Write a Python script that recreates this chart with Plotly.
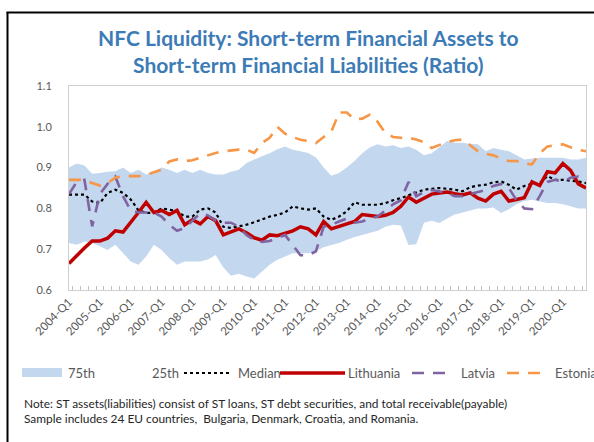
import plotly.graph_objects as go

# Quarterly categories 2004-Q1 .. 2020-Q4
quarters = [f"{y}-Q{q}" for y in range(2004, 2021) for q in range(1, 5)]
tick_labels = [f"{y}-Q1" for y in range(2004, 2021)]

p75 = [0.900, 0.910, 0.905, 0.885, 0.887, 0.890, 0.891, 0.900, 0.887, 0.895,
       0.883, 0.891, 0.900, 0.895, 0.887, 0.895, 0.887, 0.895, 0.887, 0.883,
       0.883, 0.890, 0.895, 0.911, 0.920, 0.928, 0.935, 0.945, 0.952, 0.944,
       0.940, 0.936, 0.925, 0.900, 0.880, 0.887, 0.900, 0.916, 0.935, 0.950,
       0.957, 0.952, 0.955, 0.948, 0.952, 0.944, 0.930, 0.935, 0.950, 0.965,
       0.961, 0.961, 0.958, 0.957, 0.940, 0.948, 0.944, 0.940, 0.930, 0.920,
       0.922, 0.924, 0.924, 0.924, 0.924, 0.920, 0.920, 0.924]
p25 = [0.715, 0.711, 0.719, 0.715, 0.707, 0.698, 0.711, 0.690, 0.670, 0.662,
       0.682, 0.711, 0.698, 0.678, 0.662, 0.670, 0.670, 0.670, 0.675, 0.686,
       0.655, 0.635, 0.640, 0.633, 0.628, 0.645, 0.662, 0.674, 0.682, 0.690,
       0.690, 0.690, 0.695, 0.705, 0.710, 0.715, 0.723, 0.730, 0.735, 0.740,
       0.745, 0.755, 0.760, 0.758, 0.710, 0.712, 0.765, 0.770, 0.764, 0.775,
       0.785, 0.790, 0.795, 0.800, 0.800, 0.802, 0.789, 0.798, 0.810, 0.818,
       0.821, 0.817, 0.813, 0.813, 0.810, 0.805, 0.800, 0.800]
median = [0.834, 0.834, 0.834, 0.817, 0.813, 0.838, 0.846, 0.838, 0.822, 0.795,
          0.789, 0.789, 0.800, 0.797, 0.793, 0.780, 0.780, 0.797, 0.800, 0.790,
          0.755, 0.752, 0.756, 0.760, 0.766, 0.774, 0.780, 0.784, 0.790, 0.805,
          0.800, 0.797, 0.800, 0.780, 0.772, 0.780, 0.793, 0.815, 0.809, 0.809,
          0.809, 0.813, 0.820, 0.825, 0.832, 0.838, 0.846, 0.848, 0.850, 0.848,
          0.846, 0.842, 0.852, 0.856, 0.858, 0.864, 0.866, 0.858, 0.846, 0.855,
          0.860, 0.862, 0.879, 0.870, 0.870, 0.868, 0.866, 0.862]
lithuania = [0.665, 0.685, 0.703, 0.720, 0.720, 0.727, 0.745, 0.742, 0.765, 0.790,
             0.815, 0.790, 0.795, 0.785, 0.795, 0.760, 0.772, 0.762, 0.780, 0.770,
             0.735, 0.742, 0.750, 0.740, 0.728, 0.722, 0.735, 0.733, 0.738, 0.745,
             0.755, 0.750, 0.735, 0.768, 0.750, 0.756, 0.762, 0.768, 0.785, 0.782,
             0.780, 0.783, 0.790, 0.805, 0.828, 0.815, 0.825, 0.835, 0.838, 0.840,
             0.836, 0.833, 0.838, 0.825, 0.818, 0.835, 0.842, 0.818, 0.822, 0.826,
             0.865, 0.856, 0.890, 0.887, 0.910, 0.893, 0.860, 0.850]
latvia = [0.835, 0.865, 0.870, 0.756, 0.835, 0.860, 0.878, 0.830, 0.795, 0.790,
          0.790, 0.790, 0.780, 0.760, 0.745, 0.752, 0.770, 0.788, 0.783, 0.770,
          0.765, 0.765, 0.755, 0.735, 0.722, 0.718, 0.720, 0.728, 0.735, 0.710,
          0.685, 0.685, 0.695, 0.755, 0.760, 0.768, 0.775, 0.765, 0.768, 0.775,
          0.780, 0.795, 0.810, 0.820, 0.865, 0.830, 0.840, 0.845, 0.842, 0.838,
          0.830, 0.830, 0.835, 0.840, 0.845, 0.855, 0.860, 0.850, 0.820, 0.800,
          0.798, 0.830, 0.865, 0.870, 0.865, 0.875, 0.878, 0.870]
estonia = [0.870, 0.870, 0.870, 0.862, 0.856, 0.862, 0.875, 0.879, 0.879, 0.879,
           0.882, 0.889, 0.895, 0.915, 0.920, 0.916, 0.918, 0.924, 0.930, 0.936,
           0.940, 0.942, 0.944, 0.944, 0.936, 0.960, 0.973, 1.000, 0.983, 0.975,
           0.968, 0.965, 0.960, 0.975, 0.988, 1.035, 1.035, 1.018, 1.020, 1.030,
           1.012, 0.985, 0.975, 0.973, 0.973, 0.969, 0.962, 0.948, 0.955, 0.963,
           0.967, 0.969, 0.955, 0.940, 0.934, 0.930, 0.922, 0.916, 0.916, 0.910,
           0.908, 0.935, 0.952, 0.955, 0.957, 0.950, 0.944, 0.940]

BAND = "#C3D7EF"
RED = "#C00000"
PURPLE = "#8064A2"
ORANGE = "#F79646"
FONT = "Lato"

W, H = 594, 442
L, R, T, B = 69, 8, 86, 152
PW, PH = W - L - R, H - T - B


def px(x):
    return (x - L) / PW


def py(y):
    return (H - B - y) / PH


fig = go.Figure()
fig.add_trace(go.Scatter(x=quarters, y=p25, mode="lines", line=dict(width=0),
                         hoverinfo="skip", showlegend=False))
fig.add_trace(go.Scatter(x=quarters, y=p75, mode="lines", line=dict(width=0),
                         fill="tonexty", fillcolor=BAND, showlegend=False))
fig.add_trace(go.Scatter(x=quarters, y=median, mode="lines",
                         line=dict(color="black", width=2.2, dash="dot"), showlegend=False))
fig.add_trace(go.Scatter(x=quarters, y=lithuania, mode="lines",
                         line=dict(color=RED, width=3.5), showlegend=False))
fig.add_trace(go.Scatter(x=quarters, y=latvia, mode="lines",
                         line=dict(color=PURPLE, width=2.6, dash="12px,9px"), showlegend=False))
fig.add_trace(go.Scatter(x=quarters, y=estonia, mode="lines",
                         line=dict(color=ORANGE, width=2.6, dash="12px,9px"), showlegend=False))

shapes = [
    # outer frame edges
    dict(type="line", xref="paper", yref="paper", x0=px(7.5), x1=px(7.5), y0=py(12), y1=py(445),
         line=dict(color="black", width=2)),
    dict(type="line", xref="paper", yref="paper", x0=px(6.5), x1=px(600), y0=py(12.5), y1=py(12.5),
         line=dict(color="black", width=2)),
    # legend keys
    dict(type="rect", xref="paper", yref="paper", x0=px(22), x1=px(62), y0=py(377), y1=py(368),
         fillcolor=BAND, line=dict(width=0)),
    dict(type="line", xref="paper", yref="paper", x0=px(184), x1=px(229), y0=py(373), y1=py(373),
         line=dict(color="black", width=2, dash="dot")),
    dict(type="line", xref="paper", yref="paper", x0=px(280), x1=px(345), y0=py(373), y1=py(373),
         line=dict(color=RED, width=3.5)),
    dict(type="line", xref="paper", yref="paper", x0=px(412), x1=px(448), y0=py(373), y1=py(373),
         line=dict(color=PURPLE, width=2.6, dash="12px,9px")),
    dict(type="line", xref="paper", yref="paper", x0=px(507), x1=px(543), y0=py(373), y1=py(373),
         line=dict(color=ORANGE, width=2.6, dash="12px,9px")),
]

legend_text = [("75th", 66), ("25th", 150), ("Median", 236), ("Lithuania", 346),
               ("Latvia", 459), ("Estonia", 553)]
annotations = [
    dict(text=t, x=px(x0), y=py(373), xref="paper", yref="paper", xanchor="left",
         yanchor="middle", showarrow=False, font=dict(family=FONT, size=13, color="#595959"))
    for t, x0 in legend_text
]
annotations.append(dict(
    text="Note: ST assets(liabilities) consist of ST loans, ST debt securities, and total receivable(payable)"
         "<br>Sample includes 24 EU countries,  Bulgaria, Denmark, Croatia, and Romania.",
    x=px(22), y=py(394), xref="paper", yref="paper", xanchor="left", yanchor="top", align="left",
    showarrow=False, font=dict(family=FONT, size=11.9, color="#262626")))
annotations.append(dict(
    text="<b>NFC Liquidity: Short-term Financial Assets to<br>Short-term Financial Liabilities (Ratio)</b>",
    x=px(308), y=py(51), xref="paper", yref="paper", xanchor="center", yanchor="middle",
    showarrow=False, font=dict(family=FONT, size=21, color="#3C7BB5")))

fig.update_layout(
    width=W, height=H, margin=dict(l=L, r=R, t=T, b=B),
    paper_bgcolor="white", plot_bgcolor="white",
    shapes=shapes, annotations=annotations, showlegend=False,
    font=dict(family=FONT, color="#595959"),
)
fig.update_xaxes(
    type="category", tickmode="array", tickvals=quarters,
    ticktext=[q if q in tick_labels else "" for q in quarters],
    tickangle=-45, ticks="inside", ticklen=4, tickcolor="#BFBFBF", tickson="boundaries",
    showline=True, linecolor="#D0D0D0", mirror=True, showgrid=False, zeroline=False,
    tickfont=dict(family=FONT, size=11.5, color="#595959"),
)
fig.update_yaxes(
    range=[0.6, 1.1], dtick=0.1, tickformat=".1f",
    showline=True, linecolor="#D0D0D0", mirror=True, showgrid=False, zeroline=False,
    ticks="", ticklabelstandoff=14, tickfont=dict(family=FONT, size=11, color="#595959"),
)

fig.write_html("out.html")
